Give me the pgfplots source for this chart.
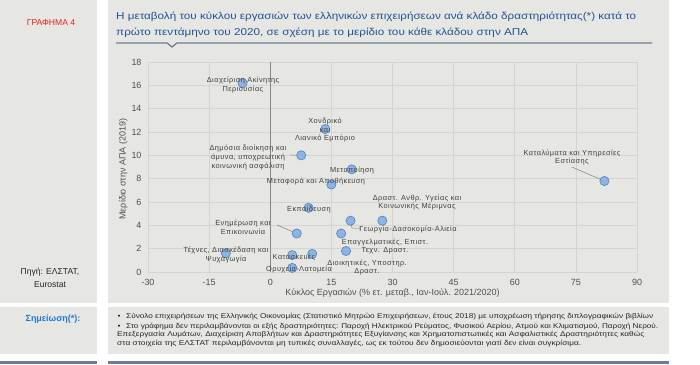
\documentclass[border=0pt]{standalone}
\usepackage{pgfplots}
\pgfplotsset{compat=1.18}
\usepackage{fontspec}
\setmainfont{Liberation Sans}
\newfontfamily\labfont[LetterSpace=6]{Liberation Sans}
\usepackage{graphicx}
\definecolor{panel}{RGB}{230,230,226}
\definecolor{barc}{RGB}{110,125,150}
\definecolor{gridc}{RGB}{212,212,210}
\definecolor{zeroc}{RGB}{135,135,135}
\definecolor{ptfill}{RGB}{141,180,226}
\definecolor{ptdraw}{RGB}{79,129,189}
\definecolor{labc}{RGB}{64,64,64}
\definecolor{tickc}{RGB}{80,80,80}
\definecolor{titc}{RGB}{36,82,150}
\definecolor{notec}{RGB}{35,120,210}
\definecolor{redc}{RGB}{235,30,30}
\newcommand{\lab}{\labfont\fontsize{7.4}{8.6}\selectfont}
\begin{document}
\begin{tikzpicture}[x=1bp,y=1bp]
\useasboundingbox (0,0) rectangle (700,364);
\fill[white] (0,0) rectangle (700,364);
\fill[panel] (0,61) rectangle (97,364);
\fill[panel] (108,61) rectangle (669,364);
\fill[panel] (0,10) rectangle (97,57);
\fill[panel] (108,10) rectangle (669,57);
\fill[barc] (0,0) rectangle (97,3);
\fill[barc] (108,0) rectangle (669,3);
% title
\node[anchor=west, inner sep=0, text=titc] at (116,347) {\resizebox{520bp}{\height}{\fontsize{10}{12}\selectfont Η μεταβολή του κύκλου εργασιών των ελληνικών επιχειρήσεων ανά κλάδο δραστηριότητας(*) κατά το}};
\node[anchor=west, inner sep=0, text=titc] at (116,331) {\resizebox{412bp}{\height}{\fontsize{10}{12}\selectfont πρώτο πεντάμηνο του 2020, σε σχέση με το μερίδιο του κάθε κλάδου στην ΑΠΑ}};
\draw[barc, line width=1.2bp] (116,321) -- (167,321) -- (172,317) -- (177,321) -- (652,321);
\node[text=redc, inner sep=0, font=\fontsize{8.6}{10}\selectfont] at (51,341) {ΓΡΑΦΗΜΑ 4};
\node[text=black!85, inner sep=0, align=center, font=\fontsize{8.6}{12.5}\selectfont] at (50,86) {Πηγή: ΕΛΣΤΑΤ,\\Eurostat};
\node[text=notec, inner sep=0, font=\fontsize{9}{11}\selectfont\bfseries] at (53,45) {Σημείωση(*):};
% notes
\node[inner sep=0] at (119,47) {\fontsize{7}{8}\selectfont •};
\node[inner sep=0] at (119,37.5) {\fontsize{7}{8}\selectfont •};
\node[anchor=west, inner sep=0, text=black!85] at (126,47) {\resizebox{527bp}{\height}{\fontsize{7}{8}\selectfont Σύνολο επιχειρήσεων της Ελληνικής Οικονομίας (Στατιστικό Μητρώο Επιχειρήσεων, έτους 2018) με υποχρέωση τήρησης διπλογραφικών βιβλίων}};
\node[anchor=west, inner sep=0, text=black!85] at (126,37.5) {\resizebox{532bp}{\height}{\fontsize{7}{8}\selectfont Στο γράφημα δεν περιλαμβάνονται οι εξής δραστηριότητες: Παροχή Ηλεκτρικού Ρεύματος, Φυσικού Αερίου, Ατμού και Κλιματισμού, Παροχή Νερού.}};
\node[anchor=west, inner sep=0, text=black!85] at (117,29) {\resizebox{527bp}{\height}{\fontsize{7}{8}\selectfont Επεξεργασία Λυμάτων, Διαχείριση Αποβλήτων και Δραστηριότητες Εξυγίανσης και Χρηματοπιστωτικές και Ασφαλιστικές Δραστηριότητες καθώς}};
\node[anchor=west, inner sep=0, text=black!85] at (117,20.5) {\resizebox{464bp}{\height}{\fontsize{7}{8}\selectfont στα στοιχεία της ΕΛΣΤΑΤ περιλαμβάνονται μη τυπικές συναλλαγές, ως εκ τούτου δεν δημοσιεύονται γιατί δεν είναι συγκρίσιμα.}};
\begin{axis}[
 at={(148bp,92bp)}, anchor=south west, scale only axis,
 width=489bp, height=210bp,
 xmin=-30, xmax=90, ymin=0, ymax=18,
 xtick={-30,-15,0,15,30,45,60,75,90}, ytick={0,2,...,18},
 grid=major, grid style={draw=gridc, line width=0.7bp},
 axis line style={draw=none}, major tick length=0pt,
 /pgf/number format/assume math mode=true,
 tick label style={font=\fontsize{9}{10}\selectfont, text=tickc},
 xticklabel style={yshift=-4bp},
 yticklabel style={xshift=-3bp},
 xlabel={Κύκλος Εργασιών (\% ετ. μεταβ., Ιαν-Ιούλ. 2021/2020)},
 ylabel={Μερίδιο στην ΑΠΑ (2019)},
 label style={font=\fontsize{9}{10}\selectfont, text=tickc},
 xlabel style={at={(axis description cs:0.5,-0.1)}, anchor=center},
 ylabel style={at={(axis description cs:-0.051,0.49)}, anchor=center},
 clip=false,
]
\draw[draw=gridc, line width=0.7bp] (axis cs:-30,0) -- (axis cs:90,0);
\draw[zeroc, line width=1bp] (axis cs:0,0) -- (axis cs:0,18);
\draw[gray, line width=0.5bp] (axis cs:4.85,10.03) -- (axis cs:7.6,10.0);
\draw[gray, line width=0.5bp] (axis cs:74.0,9.0) -- (axis cs:82,7.8);
\draw[gray, line width=0.5bp] (axis cs:1.66,4.03) -- (axis cs:6.5,3.3);
\draw[gray, line width=0.5bp] (axis cs:19.7,4.4) -- (axis cs:20.06,3.77) -- (axis cs:22.27,3.77);
\addplot[only marks, mark=*, mark size=4.6bp,
  mark options={fill=ptfill, draw=ptdraw, line width=0.6bp}]
 table {
 x y
 -6.8 16.2
 13.5 12.25
 7.6 10.0
 20.0 8.8
 15.0 7.5
 82.0 7.8
 9.4 5.5
 6.5 3.3
 27.5 4.4
 19.7 4.4
 17.4 3.3
 18.6 1.8
 5.4 1.45
 10.3 1.55
 -10.9 1.6
 5.4 0.35
 };
\end{axis}
% labels
\begin{scope}[every node/.style={inner sep=0, align=center, text=labc, font=\lab}]
\node at (243,279) {Διαχείριση Ακίνητης\\Περιουσίας};
\node[font=\labfont\fontsize{7.4}{9}\selectfont] at (325,234) {Χονδρικό\\και\\Λιανικό Εμπόριο};
\node[font=\labfont\fontsize{7.4}{9.5}\selectfont] at (248,206.5) {Δημόσια διοίκηση και\\άμυνα, υποχρεωτική\\κοινωνική ασφάλιση};
\node at (352,194) {Μεταποίηση};
\node at (316,183) {Μεταφορά και Αποθήκευση};
\node at (572,206.5) {Καταλύματα και Υπηρεσίες\\Εστίασης};
\node at (309,155) {Εκπαίδευση};
\node at (243,136.5) {Ενημέρωση και\\Επικοινωνία};
\node at (417,161.5) {Δραστ. Ανθρ. Υγείας και\\Κοινωνικής Μέριμνας};
\node at (408,135) {Γεωργία-Δασοκομία-Αλιεία};
\node at (385,117.5) {Επαγγελματικές, Επιστ.\\Τεχν. Δραστ.};
\node at (367,96.5) {Διοικητικές, Υποστηρ.\\Δραστ.};
\node at (294,107) {Κατασκευές};
\node at (299,95) {Ορυχεία-Λατομεία};
\node at (226,109) {Τέχνες, Διασκέδαση και\\Ψυχαγωγία};
\end{scope}
\end{tikzpicture}
\end{document}
